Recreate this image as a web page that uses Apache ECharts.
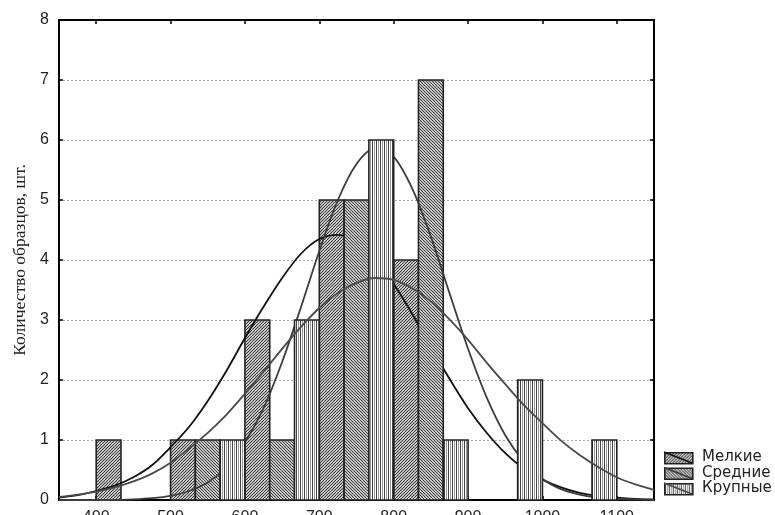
<!DOCTYPE html>
<html>
<head>
<meta charset="utf-8">
<script src="https://cdn.jsdelivr.net/npm/echarts@6/dist/echarts.min.js"></script>
<style>
html,body{margin:0;padding:0;background:#fff;}
#chart{width:775px;height:515px;}
</style>
</head>
<body>
<div id="chart"></div>
<script>
// ---- data ----
const seriesNames = ['Мелкие', 'Средние', 'Крупные'];
const binStarts = [400, 500, 600, 700, 800, 900, 1000];
const binWidth = 100;
const countsSmall = [1, 1, 3, 5, 4, 0, 0];
const countsMedium = [0, 1, 1, 5, 7, 0, 0];
const countsLarge = [0, 1, 3, 6, 1, 2, 1];

const xTicks = [400, 500, 600, 700, 800, 900, 1000, 1100];
const yTicks = [0, 1, 2, 3, 4, 5, 6, 7, 8];

// fitted curves
const curveX = [350, 375, 400, 425, 450, 475, 500, 525, 550, 575, 600, 625, 650, 675, 700, 725, 750,
                775, 800, 825, 850, 875, 900, 925, 950, 975, 1000, 1025, 1050, 1075, 1100, 1125, 1150];
const curveSmall = [0.04, 0.08, 0.15, 0.24, 0.38, 0.58, 0.88, 1.22, 1.65, 2.15, 2.70, 3.22, 3.70, 4.10, 4.35, 4.42, 4.31,
                    4.02, 3.60, 3.10, 2.55, 2.02, 1.53, 1.12, 0.78, 0.52, 0.34, 0.21, 0.12, 0.07, 0.04, 0.02, 0.01];
const curveMedium = [0.00, 0.00, 0.00, 0.00, 0.01, 0.03, 0.07, 0.15, 0.29, 0.55, 0.96, 1.53, 2.30, 3.20, 4.15, 5.00, 5.60,
                     5.86, 5.72, 5.19, 4.39, 3.45, 2.52, 1.71, 1.08, 0.64, 0.35, 0.18, 0.09, 0.04, 0.02, 0.01, 0.00];
const curveLarge = [0.05, 0.09, 0.14, 0.21, 0.31, 0.44, 0.62, 0.86, 1.12, 1.42, 1.77, 2.14, 2.52, 2.88, 3.20, 3.45, 3.62,
                    3.70, 3.67, 3.53, 3.31, 3.01, 2.67, 2.29, 1.93, 1.58, 1.28, 0.99, 0.75, 0.55, 0.38, 0.26, 0.17];

// ---- styling helpers ----
function makePattern(kind) {
  const c = document.createElement('canvas');
  const g = c.getContext('2d');
  if (kind === 'v') {
    c.width = 4; c.height = 4;
    g.fillStyle = '#fff'; g.fillRect(0, 0, 4, 4);
    g.fillStyle = '#444'; g.fillRect(0, 0, 1, 4);
    g.fillStyle = '#999'; g.fillRect(2, 0, 1, 4);
  } else {
    const s = 6;
    c.width = s; c.height = s;
    g.fillStyle = '#fff'; g.fillRect(0, 0, s, s);
    g.strokeStyle = kind === 'up' ? '#2a2a2a' : '#303030';
    g.lineWidth = 1.1;
    for (let k = -2 * s; k <= 2 * s; k += 3) {
      g.beginPath();
      if (kind === 'up') { g.moveTo(k, s); g.lineTo(k + s, 0); }
      else { g.moveTo(k, 0); g.lineTo(k + s, s); }
      g.stroke();
    }
  }
  return { image: c, repeat: 'repeat' };
}
const patterns = [makePattern('up'), makePattern('down'), makePattern('v')];
const lineColors = ['#111', '#3c3c3c', '#4a4a4a'];
const counts = [countsSmall, countsMedium, countsLarge];
const curves = [curveSmall, curveMedium, curveLarge];

const series = [];
for (let k = 0; k < 3; k++) {
  series.push({
    name: seriesNames[k],
    type: 'custom',
    z: 2 + 2 * k,
    encode: { x: 0, y: 1 },
    data: binStarts.map((b, i) => [b, counts[k][i]]),
    renderItem: function (params, api) {
      const b = api.value(0), v = api.value(1);
      if (!v) return null;
      const w = binWidth / 3;
      const p0 = api.coord([b + k * w, v]);
      const p1 = api.coord([b + (k + 1) * w, 0]);
      return {
        type: 'rect',
        shape: { x: p0[0], y: p0[1], width: p1[0] - p0[0], height: p1[1] - p0[1] },
        style: { fill: patterns[k], stroke: '#222', lineWidth: 1.6 }
      };
    }
  });
  series.push({
    name: seriesNames[k] + ' (норм.)',
    type: 'line',
    z: 3 + 2 * k,
    smooth: 0.3,
    showSymbol: false,
    silent: true,
    data: curveX.map((x, i) => [x, curves[k][i]]),
    lineStyle: { color: lineColors[k], width: 1.8 }
  });
}

// legend drawn as graphic
const graphic = [];
for (let k = 0; k < 3; k++) {
  const top = 452 + k * 15.5;
  graphic.push({
    type: 'rect', left: 664, top: top, z: 20,
    shape: { width: 28, height: 11 },
    style: { fill: patterns[k], stroke: '#222', lineWidth: 1.6 }
  });
  graphic.push({
    type: 'line', z: 21,
    shape: { x1: 664, y1: top, x2: 692, y2: top + 11 },
    style: { stroke: lineColors[k], lineWidth: 1.8 }
  });
  graphic.push({
    type: 'text', left: 702, top: top - 2, z: 21,
    style: { text: seriesNames[k], font: '15px "DejaVu Sans"', fill: '#222' }
  });
}

const chart = echarts.init(document.getElementById('chart'), null, { renderer: 'canvas' });
chart.setOption({
  animation: false,
  backgroundColor: '#fff',
  grid: { left: 59, right: 121, top: 20, bottom: 15, containLabel: false, outerBoundsMode: 'none' },
  xAxis: [
    {
      type: 'value', position: 'bottom', min: 350, max: 1150, splitNumber: 8,
      axisLine: { show: true, onZero: false, lineStyle: { color: '#000', width: 2 } },
      axisTick: { show: true, inside: true, length: 4, lineStyle: { color: '#000', width: 1.5 } },
      axisLabel: {
        margin: 10, fontSize: 16, color: '#222', fontFamily: 'Liberation Sans',
        showMinLabel: false, showMaxLabel: false,
        formatter: v => (xTicks.indexOf(v) >= 0 ? String(v) : '')
      },
      splitLine: { show: false }
    },
    {
      type: 'value', position: 'top', min: 350, max: 1150, splitNumber: 8,
      axisLine: { show: true, onZero: false, lineStyle: { color: '#000', width: 2 } },
      axisTick: { show: true, inside: true, length: 4, lineStyle: { color: '#000', width: 1.5 } },
      axisLabel: { show: false },
      splitLine: { show: false }
    }
  ],
  yAxis: [
    {
      type: 'value', position: 'left', min: 0, max: 8, interval: 1,
      name: 'Количество образцов, шт.', nameLocation: 'middle', nameGap: 30,
      nameTextStyle: { fontFamily: 'Liberation Serif', fontSize: 17.5, color: '#222' },
      axisLine: { show: true, onZero: false, lineStyle: { color: '#000', width: 2 } },
      axisTick: { show: true, inside: true, length: 4, lineStyle: { color: '#000', width: 1.5 } },
      axisLabel: {
        margin: 10, fontSize: 16, color: '#222', fontFamily: 'Liberation Sans',
        formatter: v => (yTicks.indexOf(v) >= 0 ? String(v) : '')
      },
      splitLine: { show: true, lineStyle: { color: '#aaa', type: [2, 2], width: 1 } }
    },
    {
      type: 'value', position: 'right', min: 0, max: 8, interval: 1,
      axisLine: { show: true, onZero: false, lineStyle: { color: '#000', width: 2 } },
      axisTick: { show: true, inside: true, length: 4, lineStyle: { color: '#000', width: 1.5 } },
      axisLabel: { show: false },
      splitLine: { show: false }
    }
  ],
  series: series,
  graphic: graphic
});
</script>
</body>
</html>
